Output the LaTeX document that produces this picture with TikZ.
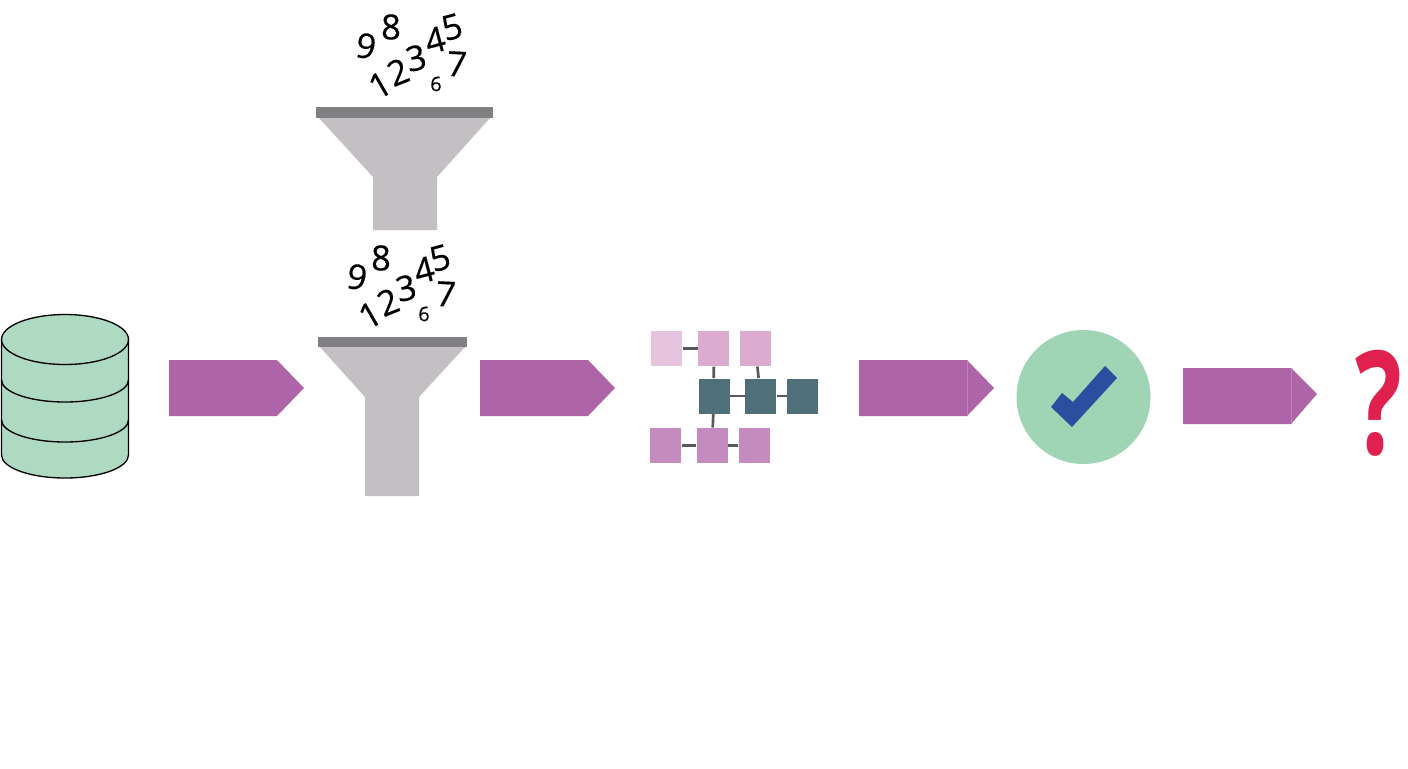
\documentclass[tikz,border=0pt]{standalone}
\usepackage{graphicx}
\usepackage{fontspec}
\setmainfont{Open Sans}
\newfontfamily\digitfont{Open Sans}[FakeBold=0.35]
\definecolor{barcolor}{RGB}{128,128,130}
\definecolor{funnelcolor}{RGB}{196,191,195}
\definecolor{dbcolor}{RGB}{174,218,194}
\definecolor{arrowcolor}{RGB}{174,101,168}
\definecolor{seamcolor}{RGB}{192,130,186}
\definecolor{linkcolor}{RGB}{90,88,94}
\definecolor{palecolor}{RGB}{231,196,222}
\definecolor{lightcolor}{RGB}{220,172,208}
\definecolor{midcolor}{RGB}{196,140,190}
\definecolor{tealcolor}{RGB}{79,112,121}
\definecolor{okcolor}{RGB}{159,213,181}
\definecolor{tickcolor}{RGB}{42,79,159}
\definecolor{askcolor}{RGB}{224,32,79}
\tikzset{
	every picture/.style={line width=0.75pt},
	digit/.style={inner sep=0pt,text=black,font=\digitfont\fontsize{26}{26}\selectfont},
	smalldigit/.style={inner sep=0pt,text=black,font=\digitfont\fontsize{15}{15}\selectfont},
	funnelbar/.style={fill=barcolor,draw=none},
	funnelbody/.style={fill=funnelcolor,draw=none},
	blockarrow/.style={fill=arrowcolor,draw=none},
	seam/.style={draw=seamcolor,line width=0.75pt},
	dbline/.style={draw=black,line width=1pt},
	cell/.style={draw=none,inner sep=0pt,minimum width=23.25pt,minimum height=26.25pt},
	link/.style={draw=linkcolor,line width=2pt},
}

\begin{document}
\begin{tikzpicture}[x=0.75pt,y=0.75pt,yscale=-1,xscale=1]
	\useasboundingbox (0,0) rectangle (1408,768);
	
	%Shape: Database
	\draw [dbline,fill=dbcolor] (1.5,339.5) -- (1.5,455) arc[start angle=180,end angle=0,x radius=63.5,y radius=23] -- (128.5,339.5) arc[start angle=0,end angle=-180,x radius=63.5,y radius=25] -- cycle ;
	\draw [dbline] (1.5,339.5) arc[start angle=180,end angle=0,x radius=63.5,y radius=25] ;
	\draw [dbline] (1.5,380) arc[start angle=180,end angle=0,x radius=63.5,y radius=22] ;
	\draw [dbline] (1.5,420) arc[start angle=180,end angle=0,x radius=63.5,y radius=22] ;
	
	%Shape: Upper funnel
	\draw [funnelbody] (319,118) -- (373,177) -- (373,230) -- (437,230) -- (437,177) -- (490,118) -- cycle ;
	\draw [funnelbar] (316,107) -- (493,107) -- (493,118) -- (316,118) -- cycle ;
	
	%Shape: Lower funnel
	\draw [funnelbody] (320,347) -- (365,397) -- (365,496) -- (419,496) -- (419,397) -- (465,347) -- cycle ;
	\draw [funnelbar] (318,337) -- (467,337) -- (467,347) -- (318,347) -- cycle ;
	
	%Shape: Arrows
	\draw [blockarrow] (169,360) -- (277,360) -- (304,388) -- (277,416) -- (169,416) -- cycle ;
	\draw [blockarrow] (480,360) -- (588,360) -- (615,388) -- (588,416) -- (480,416) -- cycle ;
	\draw [blockarrow] (859,360) -- (967,360) -- (994,388) -- (967,416) -- (859,416) -- cycle ;
	\draw [seam] (967,360) -- (967,416) ;
	\draw [blockarrow] (1183,368) -- (1291,368) -- (1317,394) -- (1291,424) -- (1183,424) -- cycle ;
	\draw [seam] (1291,368) -- (1291,424) ;
	
	%Shape: Check circle
	\draw [fill=okcolor,draw=none] (1083.5,397) circle (67) ;
	\draw [fill=tickcolor,draw=none] (1051,407) -- (1062,393) -- (1073,402) -- (1105,366) -- (1117,378) -- (1072,427) -- cycle ;
	
	%Numbers above upper funnel
	\node [digit,rotate=-10] (upnine) at (366,46) {9};
	\node [digit] (upeight) at (391,27) {8};
	\node [digit,rotate=30] (upone) at (380,85) {1};
	\node [digit,rotate=22] (uptwo) at (398,72) {2};
	\node [digit,rotate=12] (upthree) at (416,58) {3};
	\node [digit,rotate=15] (upfour) at (435,40) {4};
	\node [digit,rotate=15] (upfive) at (452,27) {5};
	\node [smalldigit] (upsix) at (436,84) {6};
	\node [digit,rotate=-3] (upseven) at (457,64) {7};
	
	%Numbers above lower funnel
	\node [digit,rotate=-10] (lownine) at (357,277) {9};
	\node [digit] (loweight) at (381,258) {8};
	\node [digit,rotate=30] (lowone) at (370,315) {1};
	\node [digit,rotate=22] (lowtwo) at (388,302) {2};
	\node [digit,rotate=12] (lowthree) at (406,288) {3};
	\node [digit,rotate=15] (lowfour) at (424,270) {4};
	\node [digit,rotate=15] (lowfive) at (440,258) {5};
	\node [smalldigit] (lowsix) at (424,314) {6};
	\node [digit,rotate=-3] (lowseven) at (446,294) {7};
	
	%Network
	\node [cell,fill=palecolor] (cella) at (666.5,348.5) {};
	\node [cell,fill=lightcolor] (cellb) at (713.5,348.5) {};
	\node [cell,fill=lightcolor] (cellc) at (755.5,348.5) {};
	\node [cell,fill=tealcolor] (celld) at (714,396) {};
	\node [cell,fill=tealcolor] (celle) at (760.5,396) {};
	\node [cell,fill=tealcolor] (cellf) at (802.5,396) {};
	\node [cell,fill=midcolor] (cellg) at (665.5,445.5) {};
	\node [cell,fill=midcolor] (cellh) at (712,445.5) {};
	\node [cell,fill=midcolor] (celli) at (754,445.5) {};
	\draw [link] (cella) -- (cellb) ;
	\draw [link] (cellb) -- (celld) ;
	\draw [link] (cellc) -- (celle) ;
	\draw [link] (celld) -- (celle) ;
	\draw [link] (celle) -- (cellf) ;
	\draw [link] (celld) -- (cellh) ;
	\draw [link] (cellg) -- (cellh) ;
	\draw [link] (cellh) -- (celli) ;
	
	\node [inner sep=0pt,text=askcolor,font=\bfseries\fontsize{108}{108}\selectfont] (ask) at (1379,403) {\scalebox{0.68}[1]{?}};
	
\end{tikzpicture}
\end{document}
